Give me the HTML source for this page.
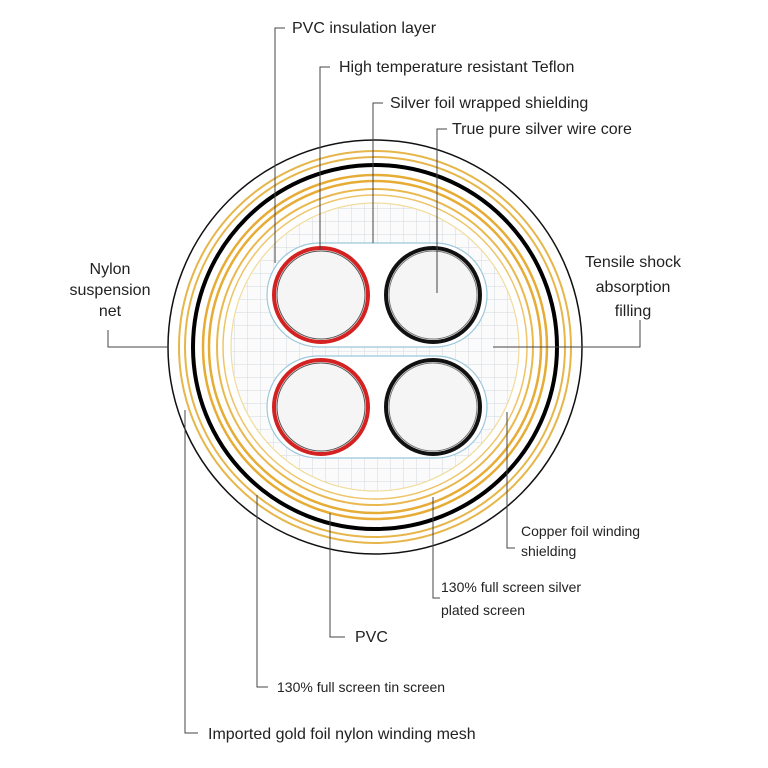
<!DOCTYPE html>
<html><head><meta charset="utf-8"><style>
html,body{margin:0;padding:0;background:#fff;}
svg{display:block;}
text{font-family:"Liberation Sans",sans-serif;font-size:16px;fill:#222;}
.s{font-size:14px;}
</style></head><body>
<svg width="768" height="768" viewBox="0 0 768 768" xmlns="http://www.w3.org/2000/svg">
<defs>
<pattern id="g" width="13" height="13" patternUnits="userSpaceOnUse">
<path d="M13 0H0V13" fill="none" stroke="#d3d8de" stroke-width="1"/>
</pattern>
<clipPath id="c"><circle cx="375" cy="347" r="144"/></clipPath>
</defs>
<circle cx="375" cy="347" r="144" fill="#fbfbfb"/>
<rect x="220" y="190" width="310" height="310" fill="url(#g)" clip-path="url(#c)"/>
<circle cx="375" cy="347" r="207" fill="none" stroke="#111" stroke-width="1.5"/>
<circle cx="375" cy="347" r="196" fill="none" stroke="#e6b64a" stroke-width="2"/>
<circle cx="375" cy="347" r="190" fill="none" stroke="#e6b64a" stroke-width="2"/>
<circle cx="375" cy="347" r="182" fill="none" stroke="#000" stroke-width="4"/>
<circle cx="375" cy="347" r="172" fill="none" stroke="#e6ac35" stroke-width="2.5"/>
<circle cx="375" cy="347" r="166" fill="none" stroke="#e6ac35" stroke-width="2.5"/>
<circle cx="375" cy="347" r="158" fill="none" stroke="#e9b94f" stroke-width="2"/>
<circle cx="375" cy="347" r="152" fill="none" stroke="#eec46a" stroke-width="1.5"/>
<circle cx="375" cy="347" r="144" fill="none" stroke="#f1dc9c" stroke-width="1.2"/>
<rect x="267" y="243" width="220" height="104" rx="52" fill="#fff" stroke="#9cc8dc" stroke-width="1.2"/>
<rect x="267" y="356" width="220" height="102" rx="51" fill="#fff" stroke="#9cc8dc" stroke-width="1.2"/>
<circle cx="321" cy="295" r="47" fill="#f5f5f5" stroke="#d42222" stroke-width="4"/>
<circle cx="321" cy="295" r="44" fill="none" stroke="#555" stroke-width="1"/>
<circle cx="433" cy="295" r="47" fill="#f5f5f5" stroke="#111" stroke-width="4"/>
<circle cx="433" cy="295" r="44" fill="none" stroke="#777" stroke-width="1"/>
<circle cx="321" cy="407" r="47" fill="#f5f5f5" stroke="#d42222" stroke-width="4"/>
<circle cx="321" cy="407" r="44" fill="none" stroke="#555" stroke-width="1"/>
<circle cx="433" cy="407" r="47" fill="#f5f5f5" stroke="#111" stroke-width="4"/>
<circle cx="433" cy="407" r="44" fill="none" stroke="#777" stroke-width="1"/>
<g fill="none" stroke="#444" stroke-width="1">
<path d="M285 28H275V263"/>
<path d="M330 67H320V250"/>
<path d="M383 103H373V243"/>
<path d="M447 129H437V293"/>
<path d="M108 330V347H168"/>
<path d="M640 320V347H493"/>
<path d="M507 412V548H515"/>
<path d="M433 497V598H440"/>
<path d="M330 513V637H345"/>
<path d="M257 495V687H268"/>
<path d="M185 410V733H198"/>
</g>
<text x="292" y="33">PVC insulation layer</text>
<text x="339" y="72">High temperature resistant Teflon</text>
<text x="390" y="108">Silver foil wrapped shielding</text>
<text x="452" y="134">True pure silver wire core</text>
<text x="110" y="274" text-anchor="middle">Nylon</text>
<text x="110" y="295" text-anchor="middle">suspension</text>
<text x="110" y="316" text-anchor="middle">net</text>
<text x="633" y="267" text-anchor="middle">Tensile shock</text>
<text x="633" y="292" text-anchor="middle">absorption</text>
<text x="633" y="316" text-anchor="middle">filling</text>
<text class="s" x="521" y="536">Copper foil winding</text>
<text class="s" x="521" y="556">shielding</text>
<text class="s" x="441" y="592">130% full screen silver</text>
<text class="s" x="441" y="615">plated screen</text>
<text x="355" y="642">PVC</text>
<text class="s" x="277" y="692">130% full screen tin screen</text>
<text x="208" y="739">Imported gold foil nylon winding mesh</text>
</svg>
</body></html>
